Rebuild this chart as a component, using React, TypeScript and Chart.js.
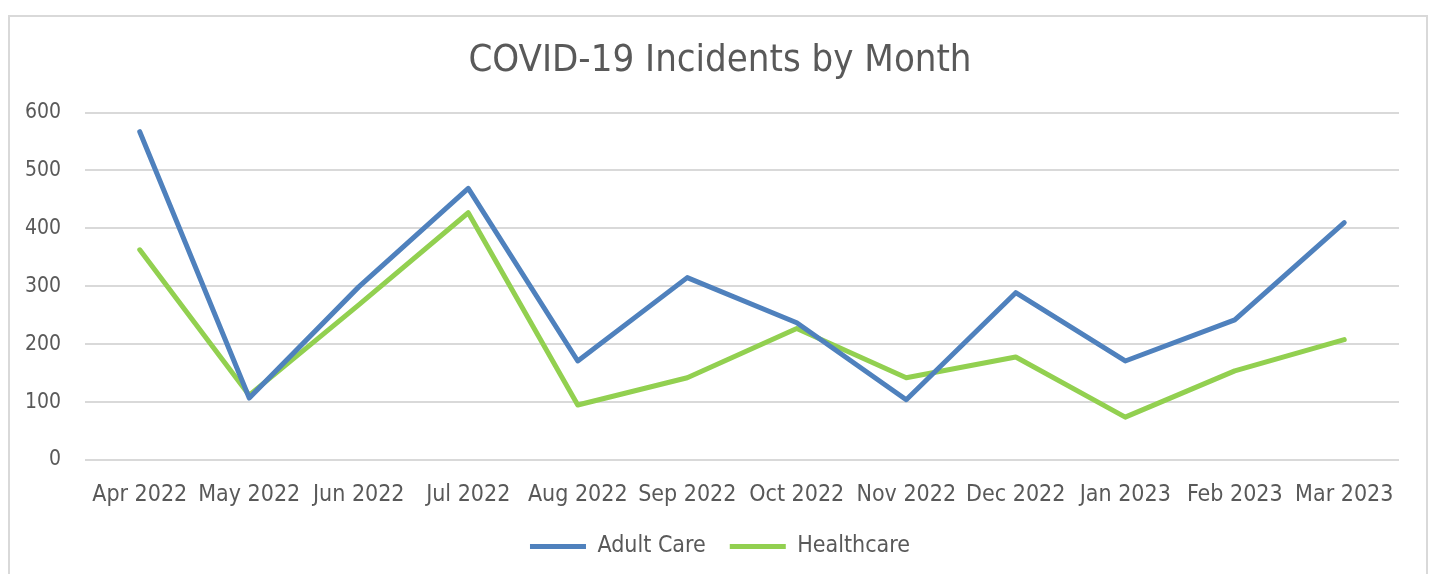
import React, { useEffect, useRef } from "react";
import { Chart, registerables } from "chart.js";

Chart.register(...registerables);

const months = [
  "Apr 2022", "May 2022", "Jun 2022", "Jul 2022", "Aug 2022", "Sep 2022",
  "Oct 2022", "Nov 2022", "Dec 2022", "Jan 2023", "Feb 2023", "Mar 2023",
];
const adultCare = [567, 107, 299, 469, 171, 315, 237, 104, 289, 171, 242, 410];
const healthcare = [363, 112, 268, 427, 95, 142, 227, 142, 178, 74, 154, 208];
const yTicks = [0, 100, 200, 300, 400, 500, 600];

const FONT = "'DejaVu Sans Condensed', 'DejaVu Sans', sans-serif";
const TEXT = "#595959";

export default function App() {
  const ref = useRef<HTMLCanvasElement>(null);
  useEffect(() => {
    document.body.style.margin = "0";
    document.body.style.overflow = "hidden";
    const chart = new Chart(ref.current!, {
      type: "line",
      data: {
        labels: months,
        datasets: [
          {
            label: "Adult Care",
            data: adultCare,
            borderColor: "#4F81BD",
            backgroundColor: "#4F81BD",
            borderWidth: 5,
            pointRadius: 0,
            borderCapStyle: "round",
            borderJoinStyle: "round",
            tension: 0,
          },
          {
            label: "Healthcare",
            data: healthcare,
            borderColor: "#92D050",
            backgroundColor: "#92D050",
            borderWidth: 5,
            pointRadius: 0,
            borderCapStyle: "round",
            borderJoinStyle: "round",
            tension: 0,
          },
        ],
      },
      options: {
        animation: false,
        responsive: false,
        layout: { padding: { left: 31, right: 27, top: 0, bottom: 6 } },
        scales: {
          x: {
            offset: true,
            grid: { display: false },
            border: { display: false },
            ticks: {
              color: TEXT,
              font: { family: FONT, size: 23 },
              padding: 13,
              maxRotation: 0,
              autoSkip: false,
            },
            afterFit: (s: any) => {
              s.height = 51;
            },
          },
          y: {
            min: 0,
            max: 600,
            afterBuildTicks: (s: any) => {
              s.ticks = yTicks.map((v) => ({ value: v }));
            },
            grid: { color: "#D9D9D9", lineWidth: 2, drawTicks: false },
            border: { display: false },
            ticks: {
              color: TEXT,
              font: { family: FONT, size: 21 },
              mirror: true,
              crossAlign: "far",
              padding: -60,
            },
            afterFit: (s: any) => {
              s.width = 44;
            },
          },
        },
        plugins: {
          title: {
            display: true,
            text: "COVID-19 Incidents by Month",
            color: TEXT,
            font: { family: FONT, size: 38, weight: "normal" },
            padding: { top: 21, bottom: 29 },
          },
          legend: {
            position: "bottom",
            labels: {
              color: TEXT,
              font: { family: FONT, size: 23 },
              usePointStyle: true,
              pointStyle: "line",
              pointStyleWidth: 56,
              padding: 24,
            },
          },
          tooltip: { enabled: false },
        },
      },
    });
    return () => chart.destroy();
  }, []);
  return (
    <div
      style={{
        position: "fixed",
        left: 8,
        top: 15,
        width: 1420,
        height: 580,
        boxSizing: "border-box",
        border: "2px solid #D9D9D9",
        background: "#fff",
      }}
    >
      <canvas ref={ref} width={1416} height={557} style={{ display: "block" }} />
    </div>
  );
}
